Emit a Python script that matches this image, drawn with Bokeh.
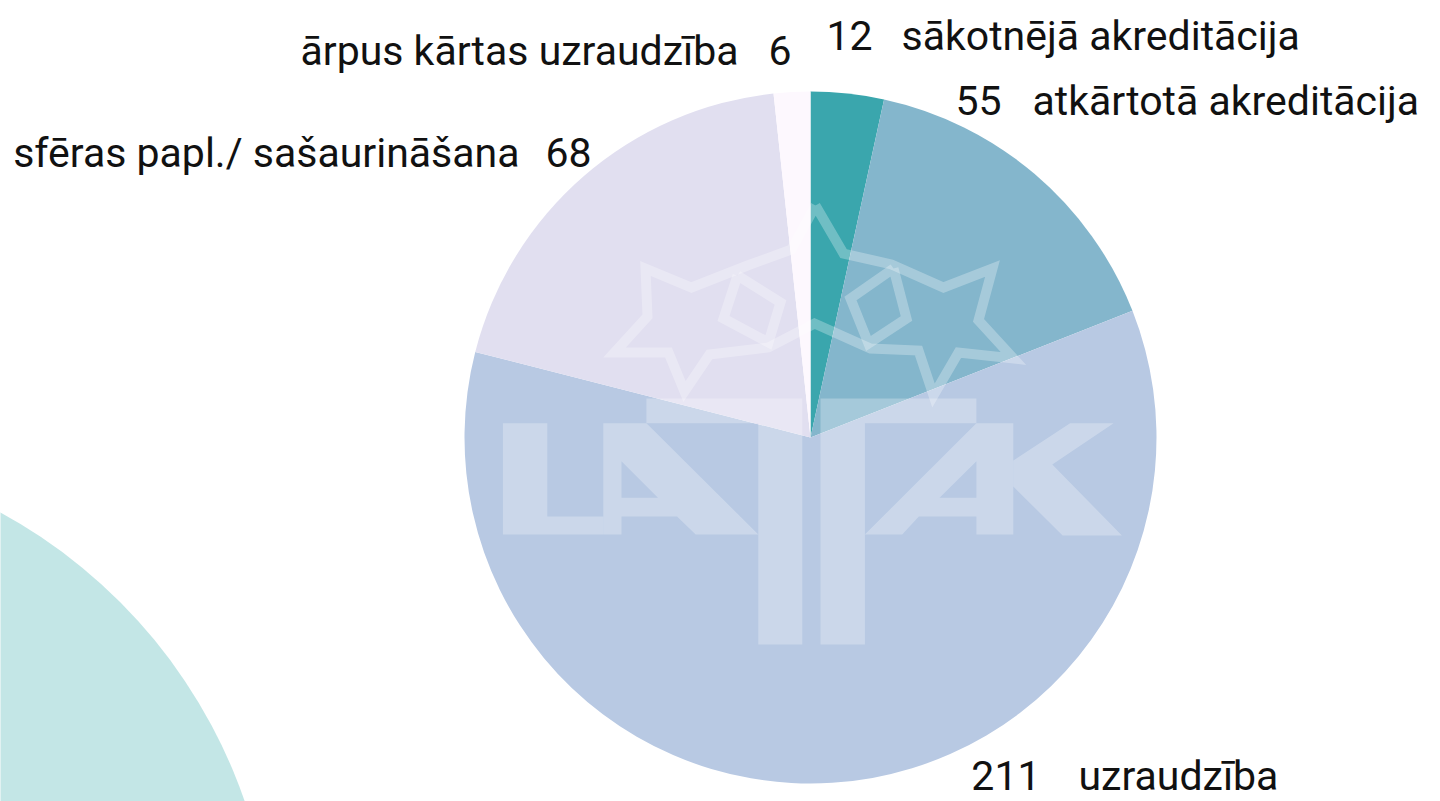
import numpy as np
from bokeh.plotting import figure
from bokeh.models import Range1d, ColumnDataSource
from bokeh.core.properties import value
from bokeh.embed import file_html
from bokeh.resources import INLINE

# ---- data ----
categories = ["sākotnējā akreditācija", "atkārtotā akreditācija", "uzraudzība",
              "sfēras papl./ sašaurināšana", "ārpus kārtas uzraudzība"]
counts = [12, 55, 211, 68, 6]
colors = ["#3aa6ad", "#84b6cc", "#b8c9e3", "#e1dff0", "#fdf8fe"]

# ---- layout (pixel space; y measured from top) ----
W, H = 1440, 801
CX, CY, R = 810, 437, 346
# label layout: (number anchor x, name anchor x, baseline y, number-first?)
label_layout = [
    (872, 901, 50, True),
    (1001, 1032, 115, True),
    (1040, 1078, 790, True),
    (545, 519, 167, False),
    (768, 738, 65, False),
]
BASE_SHIFT = 15
FONT = "Roboto"
FSIZE = "41px"


def Y(py):
    return H - py


p = figure(width=W, height=H, x_range=Range1d(0, W), y_range=Range1d(0, H),
           output_backend="svg", toolbar_location=None, min_border=0)
p.axis.visible = False
p.grid.visible = False
p.outline_line_color = None
p.background_fill_color = "white"
p.border_fill_color = "white"

# decorative background circle
p.circle(x=[-251], y=[Y(972)], radius=524, fill_color="#c3e6e6", line_color=None)

# pie
total = sum(counts)
cum = np.cumsum([0] + counts)
start = np.pi / 2 - 2 * np.pi * cum[:-1] / total
end = np.pi / 2 - 2 * np.pi * cum[1:] / total
src = ColumnDataSource(dict(start=start, end=end, color=colors, cat=categories, n=counts))
p.wedge(x=CX, y=Y(CY), radius=R, start_angle="start", end_angle="end",
        direction="clock", fill_color="color", line_color=None, source=src)

# ---- watermark logo ----
def pts(lst):
    return [x for x, _ in lst], [Y(y) for _, y in lst]

shapes = [
    ([(502.4, 422.7), (546.8, 422.7), (546.8, 516), (602.8, 516), (602.8, 534), (502.4, 534)], []),
    ([(602.8, 422.7), (645.9, 422.7), (757.8, 534), (695.2, 534), (676.6, 516), (621, 516), (621, 534), (602.8, 534)],
     [[(621, 460.7), (657.5, 497.3), (621, 497.3)]]),
    ([(645.9, 398), (801.8, 398), (801.8, 644), (757.8, 644), (757.8, 422.7), (645.9, 422.7)], []),
    ([(820, 398), (975.9, 398), (975.9, 422.7), (864.4, 422.7), (864.4, 644), (820, 644)], []),
    ([(975.9, 422.7), (1012.8, 422.7), (1012.8, 534), (975.9, 534), (975.9, 516), (918.3, 516), (901.7, 534), (864.4, 534)],
     [[(975.9, 460.7), (975.9, 497.3), (939, 497.3)]]),
    ([(1012.8, 460), (1069.6, 422.7), (1113.1, 422.7), (1051.8, 464), (1121.4, 535), (1062.1, 535), (1012.8, 486)], []),
]
mxs, mys = [], []
for outer, holes in shapes:
    ox, oy = pts(outer)
    rx, ry = [ox], [oy]
    for h in holes:
        hx, hy = pts(h)
        rx.append(hx)
        ry.append(hy)
    mxs.append([rx])
    mys.append([ry])
p.multi_polygons(xs=mxs, ys=mys, fill_color="white", fill_alpha=0.27, line_color=None)

star_outer = [(815, 205), (843, 253), (891, 264), (943, 287), (992, 268), (978, 320), (1013, 358),
              (958, 352), (933, 395), (918, 350), (870, 348), (814, 323), (768, 347), (709, 354),
              (684, 391), (668, 352), (614, 352), (647, 316), (645, 268), (691, 287), (747, 265),
              (791, 249), (815, 205)]
quad_l = [(737, 275), (780, 302), (768, 342), (723, 318), (737, 275)]
quad_r = [(893, 268), (906, 318), (868, 343), (850, 298), (893, 268)]
lx, ly = [], []
for s in (star_outer, quad_l, quad_r):
    a, b = pts(s)
    lx.append(a)
    ly.append(b)
p.multi_line(xs=lx, ys=ly, line_color="white", line_alpha=0.28, line_width=10, line_join="miter")

# ---- labels ----
num_x, num_y, num_t, num_a = [], [], [], []
nm_x, nm_y, nm_t, nm_a = [], [], [], []
for cat, n, (xn, xc, base, numfirst) in zip(categories, counts, label_layout):
    yb = Y(base - BASE_SHIFT)
    num_x.append(xn); num_y.append(yb); num_t.append(str(n))
    nm_x.append(xc); nm_y.append(yb); nm_t.append(cat)
    num_a.append("right" if numfirst else "left")
    nm_a.append("left" if numfirst else "right")

p.text(x=num_x, y=num_y, text=num_t, text_align=num_a, text_baseline="alphabetic",
       text_font=value(FONT), text_font_size=FSIZE, text_color="#111111")
p.text(x=nm_x, y=nm_y, text=nm_t, text_align=nm_a, text_baseline="alphabetic",
       text_font=value(FONT), text_font_size=FSIZE, text_color="#111111")

open("out.html", "w").write(file_html(p, INLINE))
